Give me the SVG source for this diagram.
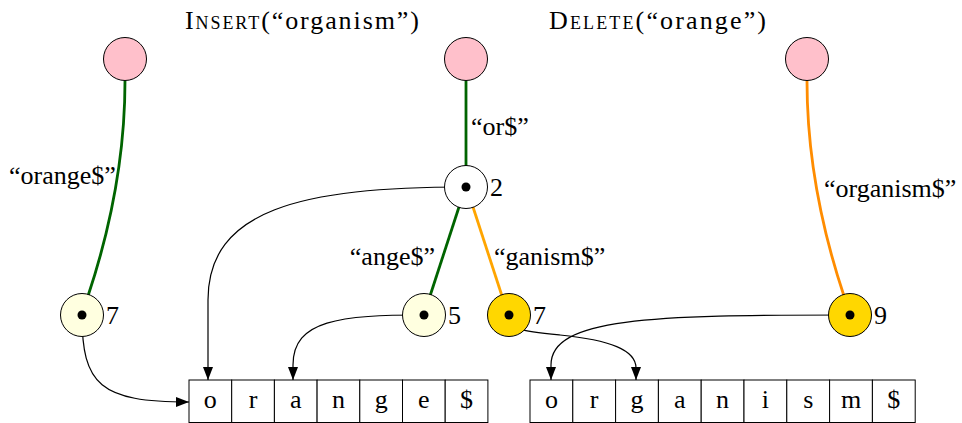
<svg xmlns="http://www.w3.org/2000/svg" width="962" height="423" viewBox="0 0 962 423" font-family="Liberation Serif, Times New Roman, serif">
  <style>
    text { font-size: 26px; fill: #000; }
    .sc { font-size: 18px; }
    .cell { fill: #fff; stroke: #000; stroke-width: 1; }
    .cell-text { text-anchor: middle; }
    .node { stroke: #000; stroke-width: 1; }
    .root { fill: #ffc0cb; }
    .leaf { fill: #ffffe0; }
    .inner { fill: #fff; }
    .gold { fill: #ffd700; }
    .dot { fill: #000; }
    .edge { fill: none; stroke-width: 2.8; }
    .green { stroke: #006400; }
    .orange { stroke: #ffa500; }
    .darkorange { stroke: #ff8c00; }
    .ptr { fill: none; stroke: #000; stroke-width: 1.2; }
  </style>
  <defs>
    <marker id="arrow" markerUnits="userSpaceOnUse" markerWidth="14" markerHeight="11" refX="13" refY="5" orient="auto">
      <path d="M0,0 L13,5 L0,10 z" fill="#000"/>
    </marker>
  </defs>

  <!-- titles -->
  <text x="185" y="29" textLength="234" lengthAdjust="spacing">I<tspan class="sc">NSERT</tspan>(“organism”)</text>
  <text x="549" y="29" textLength="217" lengthAdjust="spacing">D<tspan class="sc">ELETE</tspan>(“orange”)</text>

  <!-- trie edges and pointers -->
  <g id="connectors">
    <path class="edge green" d="M125,81 C125,160 110,230 88,296"/>
    <path class="edge green" d="M466,81 L466,166"/>
    <path class="edge green" d="M459,207 L430,296"/>
    <path class="edge orange" d="M473,207 L502,296"/>
    <path class="edge darkorange" d="M807,81 C807,160 822,230 844,296"/>

    <path class="ptr" marker-end="url(#arrow)" d="M466,187 C300,187 208,210 208,300 L208,380"/>
    <path class="ptr" marker-end="url(#arrow)" d="M82,315 C82,385 100,402 189,402"/>
    <path class="ptr" marker-end="url(#arrow)" d="M424,315 C340,315 293,320 293,365 L293,380"/>
    <path class="ptr" marker-end="url(#arrow)" d="M509,315 C509,330 520,331 560,335 C610,340 636,350 636,368 L636,380"/>
    <path class="ptr" marker-end="url(#arrow)" d="M850,315 C650,315 551,318 551,365 L551,380"/>
  </g>

  <!-- edge labels -->
  <g id="edge-labels">
    <text x="9" y="184">“orange$”</text>
    <text x="471" y="135">“or$”</text>
    <text x="435" y="265" text-anchor="end">“ange$”</text>
    <text x="494" y="265">“ganism$”</text>
    <text x="824" y="197">“organism$”</text>
  </g>

  <!-- trie nodes -->
  <g id="root-left"><circle class="node root" cx="125" cy="59" r="21.5"/></g>
  <g id="root-mid"><circle class="node root" cx="466" cy="59" r="21.5"/></g>
  <g id="root-right"><circle class="node root" cx="807" cy="59" r="21.5"/></g>

  <g id="node-2">
    <circle class="node inner" cx="466" cy="187" r="21.5"/>
    <circle class="dot" cx="466" cy="187" r="4.5"/>
    <text x="490" y="196">2</text>
  </g>
  <g id="node-left-7">
    <circle class="node leaf" cx="82" cy="315" r="21.5"/>
    <circle class="dot" cx="82" cy="315" r="4.5"/>
    <text x="106" y="324">7</text>
  </g>
  <g id="node-5">
    <circle class="node leaf" cx="424" cy="315" r="21.5"/>
    <circle class="dot" cx="424" cy="315" r="4.5"/>
    <text x="448" y="324">5</text>
  </g>
  <g id="node-mid-7">
    <circle class="node gold" cx="509" cy="315" r="21.5"/>
    <circle class="dot" cx="509" cy="315" r="4.5"/>
    <text x="533" y="324">7</text>
  </g>
  <g id="node-9">
    <circle class="node gold" cx="850" cy="315" r="21.5"/>
    <circle class="dot" cx="850" cy="315" r="4.5"/>
    <text x="874" y="324">9</text>
  </g>

  <!-- string "orange$" -->
  <g id="array-orange">
    <rect class="cell" x="189" y="380" width="42.7" height="42.5"/>
    <rect class="cell" x="231.7" y="380" width="42.7" height="42.5"/>
    <rect class="cell" x="274.4" y="380" width="42.7" height="42.5"/>
    <rect class="cell" x="317.1" y="380" width="42.7" height="42.5"/>
    <rect class="cell" x="359.8" y="380" width="42.7" height="42.5"/>
    <rect class="cell" x="402.5" y="380" width="42.7" height="42.5"/>
    <rect class="cell" x="445.2" y="380" width="42.7" height="42.5"/>
    <text class="cell-text" x="210.35" y="408">o</text>
    <text class="cell-text" x="253.05" y="408">r</text>
    <text class="cell-text" x="295.75" y="408">a</text>
    <text class="cell-text" x="338.45" y="408">n</text>
    <text class="cell-text" x="381.15" y="408">g</text>
    <text class="cell-text" x="423.85" y="408">e</text>
    <text class="cell-text" x="466.55" y="408">$</text>
  </g>

  <!-- string "organism$" -->
  <g id="array-organism">
    <rect class="cell" x="530" y="380" width="42.8" height="42.5"/>
    <rect class="cell" x="572.8" y="380" width="42.8" height="42.5"/>
    <rect class="cell" x="615.6" y="380" width="42.8" height="42.5"/>
    <rect class="cell" x="658.4" y="380" width="42.8" height="42.5"/>
    <rect class="cell" x="701.2" y="380" width="42.8" height="42.5"/>
    <rect class="cell" x="744" y="380" width="42.8" height="42.5"/>
    <rect class="cell" x="786.8" y="380" width="42.8" height="42.5"/>
    <rect class="cell" x="829.6" y="380" width="42.8" height="42.5"/>
    <rect class="cell" x="872.4" y="380" width="42.8" height="42.5"/>
    <text class="cell-text" x="551.4" y="408">o</text>
    <text class="cell-text" x="594.2" y="408">r</text>
    <text class="cell-text" x="637" y="408">g</text>
    <text class="cell-text" x="679.8" y="408">a</text>
    <text class="cell-text" x="722.6" y="408">n</text>
    <text class="cell-text" x="765.4" y="408">i</text>
    <text class="cell-text" x="808.2" y="408">s</text>
    <text class="cell-text" x="851" y="408">m</text>
    <text class="cell-text" x="893.8" y="408">$</text>
  </g>
</svg>
